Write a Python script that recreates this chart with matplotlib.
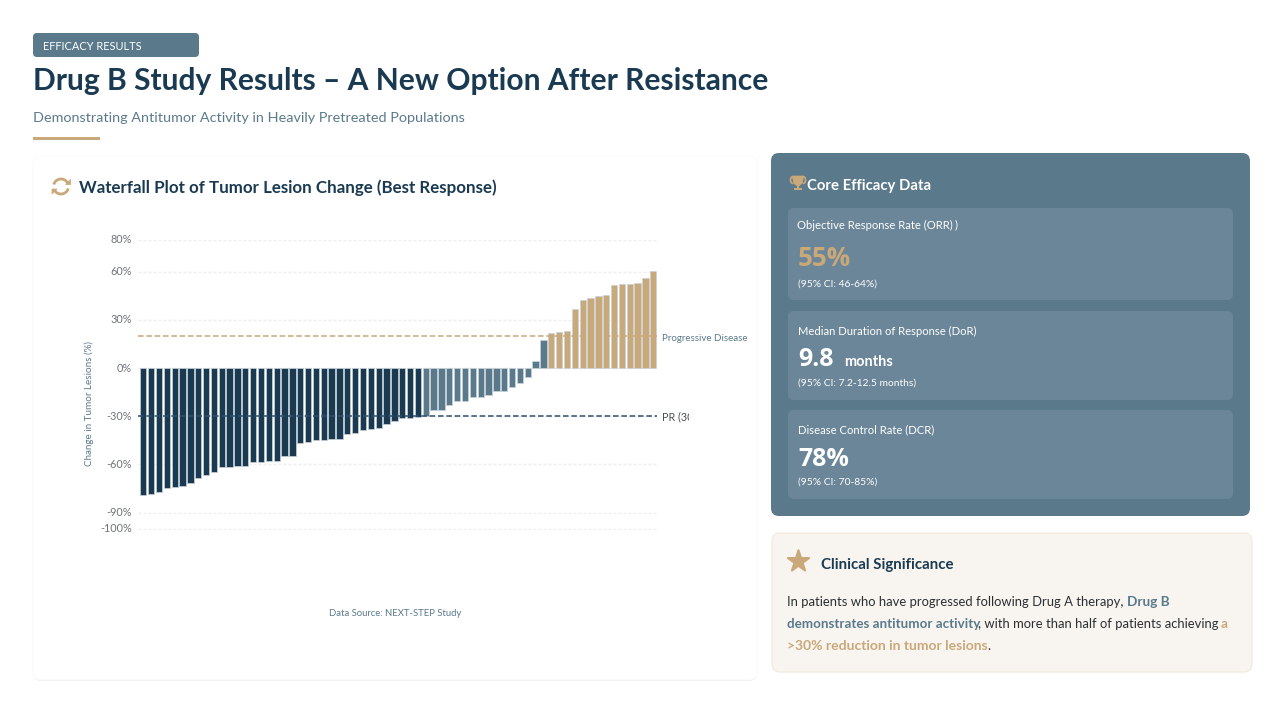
import matplotlib
matplotlib.use('Agg')
import matplotlib.pyplot as plt
from matplotlib.markers import MarkerStyle
from matplotlib.patches import FancyBboxPatch, Rectangle, Arc, Polygon
from matplotlib.transforms import ScaledTranslation

plt.rcParams['font.family'] = ['Lato', 'DejaVu Sans']
plt.rcParams['lines.scale_dashes'] = False

# best response per patient, sorted from deepest shrinkage to largest growth
resposta_forte = [-79.3, -78.6, -77.0, -74.5, -74.1, -73.7, -71.3, -68.2, -66.3, -64.7, -61.6, -61.4,
                  -61.0, -61.0, -58.5, -58.3, -58.1, -58.1, -54.8, -54.6, -46.6, -46.2, -45.0, -44.6,
                  -44.4, -44.4, -41.3, -40.7, -38.6, -37.6, -37.4, -34.9, -33.0, -31.0, -30.8, -30.4]
doenca_estavel = [-30.0, -26.2, -25.8, -22.9, -20.6, -20.2, -17.7, -17.7, -16.7, -14.4, -14.0, -11.9,
                  -9.4, -5.4, 4.6, 17.5]
progressao = [22.0, 22.3, 22.9, 36.7, 42.7, 43.5, 45.2, 45.8, 51.9, 52.3, 52.7, 53.1, 56.3, 60.2]

ticks_y = [80, 60, 30, 0, -30, -60, -90, -100]
limiar_pd = 20
limiar_pr = -30

NAVY = '#1a3a52'
SLATE = '#5a7a8c'
TAN = '#c9a87a'
CARD = '#6b8698'

W, H = 1280, 720
fig = plt.figure(figsize=(W / 100, H / 100), dpi=100, facecolor='#ffffff')

# camada de fundo em coordenadas de pixel
bg = fig.add_axes([0, 0, 1, 1])
bg.set_xlim(0, W)
bg.set_ylim(H, 0)
bg.axis('off')


def caixa(x0, y0, x1, y1, cor, raio=6, borda='none', lw=1, z=1):
    p = FancyBboxPatch((x0 + raio, y0 + raio), x1 - x0 - 2 * raio, y1 - y0 - 2 * raio,
                       boxstyle='round,pad=%s,rounding_size=%s' % (raio, raio),
                       fc=cor, ec=borda, lw=lw, zorder=z)
    bg.add_patch(p)
    return p


def texto(x, y, s, px, cor, peso='normal', ha='left', fam=None, **kw):
    if fam is not None:
        kw['family'] = fam
    return bg.text(x, y, s, fontsize=px * 0.72, color=cor, fontweight=peso, ha=ha, va='center',
                   zorder=6, **kw)


# cabecalho
caixa(33, 33, 199, 57, SLATE, raio=4)
texto(43, 46, 'EFFICACY RESULTS', 10.95, '#ffffff')
texto(33, 81, 'Drug B Study Results – A New Option After Resistance', 30, NAVY, 'bold')
texto(33, 118, 'Demonstrating Antitumor Activity in Heavily Pretreated Populations', 14.37, SLATE)
bg.add_patch(Rectangle((33, 137), 67, 3, fc=TAN, ec='none'))

# cartao do grafico, com sombra discreta embaixo
caixa(33, 157, 757, 681, '#ececec', raio=8, z=0.5)
caixa(33, 156, 757, 680, '#ffffff', raio=8, borda='#fafafa', lw=0.6)
texto(79, 188, 'Waterfall Plot of Tumor Lesion Change (Best Response)', 16.87, NAVY, 'bold')

# icone de atualizar
bg.add_patch(Arc((61, 186.5), 15, 15, theta1=195, theta2=330, ec=TAN, lw=2, zorder=5))
bg.add_patch(Arc((61, 186.5), 15, 15, theta1=15, theta2=150, ec=TAN, lw=2, zorder=5))
bg.add_patch(Polygon([[65, 184], [70, 184], [70, 179]], fc=TAN, ec=TAN, lw=0.5, zorder=5))
bg.add_patch(Polygon([[52, 189], [57, 189], [52, 194]], fc=TAN, ec=TAN, lw=0.5, zorder=5))

# waterfall
valores = resposta_forte + doenca_estavel + progressao
cores = [NAVY] * len(resposta_forte) + [SLATE] * len(doenca_estavel) + [TAN] * len(progressao)
ax_l, ax_r, ax_t, ax_b = 138, 657, 239.7, 530.3
ax = fig.add_axes([ax_l / W, 1 - ax_b / H, (ax_r - ax_l) / W, (ax_b - ax_t) / H])
ax.patch.set_alpha(0)
ax.bar(range(len(valores)), valores, width=0.8, color=cores, edgecolor='#c9d2da', linewidth=0.5, zorder=2)
ax.set_xlim(-0.675, 65.47)
ax.set_ylim(-101, 80)
ax.set_xticks([])
ax.set_yticks(ticks_y)
ax.set_yticklabels(['%d%%' % v for v in ticks_y], fontsize=7.8, color='#6f7479')
ax.tick_params(axis='y', length=0, pad=4.5)
# os rotulos ficam 1px acima da linha de grade
sobe = ScaledTranslation(0, 1 / 100, fig.dpi_scale_trans)
for rotulo in ax.get_yticklabels():
    rotulo.set_transform(rotulo.get_transform() + sobe)
ax.grid(axis='y', color='#efefef', lw=1, dashes=(2.2, 1.4), zorder=1)
for lado in ax.spines.values():
    lado.set_visible(False)
ax.axhline(limiar_pd, color=TAN, lw=1.1, dashes=(4, 2), zorder=3)
ax.axhline(limiar_pr, color='#2f4f6b', lw=1.1, dashes=(4, 2), zorder=3)

texto(89, 404, 'Change in Tumor Lesions (%)', 9.9, SLATE, ha='center', rotation=90)
texto(662, 338.5, 'Progressive Disease', 9.8, SLATE)
pr = texto(662, 416.5, 'PR (30% Reduction)', 10.8, '#4a4f55', clip_on=True)
pr.set_clip_path(Rectangle((650, 405), 39, 22, transform=bg.transData))
texto(395, 613.5, 'Data Source: NEXT-STEP Study', 9.5, SLATE, ha='center')

# painel de eficacia
caixa(771, 153, 1250, 516, SLATE, raio=8)
texto(807, 186, 'Core Efficacy Data', 14.9, '#ffffff', 'bold')

# trofeu
bg.add_patch(Arc((793, 180), 5, 7, theta1=90, theta2=270, ec=TAN, lw=1.2, zorder=5))
bg.add_patch(Arc((803, 180), 5, 7, theta1=270, theta2=90, ec=TAN, lw=1.2, zorder=5))
bg.add_patch(Polygon([[792.5, 176], [803.5, 176], [802.5, 183], [799.5, 185.5], [796.5, 185.5], [793.5, 183]],
                     fc=TAN, ec=TAN, lw=0.5, zorder=5))
bg.add_patch(Rectangle((797, 185), 2, 3, fc=TAN, ec='none', zorder=5))
bg.add_patch(Rectangle((794, 188), 8, 2, fc=TAN, ec='none', zorder=5))

for y0, y1 in [(208, 300), (311, 400), (410, 499)]:
    caixa(788, y0, 1233, y1, CARD, raio=6, z=2)

texto(797, 225.5, 'Objective Response Rate (ORR)', 11.2, '#ffffff')
texto(954.5, 224.5, ')', 11.2, '#ffffff')
texto(798, 258, '55%', 26, TAN, 'bold', fam='Open Sans')
texto(798, 284, '(95% CI: 46-64%)', 10.2, '#ffffff')

texto(798, 331.5, 'Median Duration of Response (DoR)', 11.2, '#ffffff')
texto(798, 360, '9.8', 25, '#ffffff', 'bold', fam='Open Sans')
texto(844, 361.5, 'months', 14.5, '#ffffff', 'bold')
texto(798, 383.5, '(95% CI: 7.2-12.5 months)', 10.2, '#ffffff')

texto(798, 429.8, 'Disease Control Rate (DCR)', 11.2, '#ffffff')
texto(798, 459, '78%', 25, '#ffffff', 'bold', fam='Open Sans')
texto(798, 482, '(95% CI: 70-85%)', 10.2, '#ffffff')

# significado clinico
caixa(772, 533, 1252, 672, '#f8f5f0', raio=8, borda='#f0e6d8', lw=0.7)
estrela = MarkerStyle('*', joinstyle='round')
bg.scatter([798], [561], marker=estrela, s=260, c=TAN, edgecolors=TAN, linewidths=1.5, zorder=5)
texto(821, 565, 'Clinical Significance', 15, NAVY, 'bold')

texto(787, 601.5, 'In patients who have progressed following Drug A therapy,', 13, '#2b2f33')
texto(1127, 601.5, 'Drug B', 13.6, SLATE, 'bold')
texto(787, 623.5, 'demonstrates antitumor activity', 13.4, SLATE, 'bold')
texto(978, 623.5, ', with more than half of patients achieving', 13, '#2b2f33')
texto(1221, 623.5, 'a', 13.6, TAN, 'bold')
texto(787, 646.5, '>30% reduction in tumor lesions', 13.85, TAN, 'bold')
texto(987, 646.5, '.', 13, '#2b2f33')

fig.savefig('out.png', dpi=100)
